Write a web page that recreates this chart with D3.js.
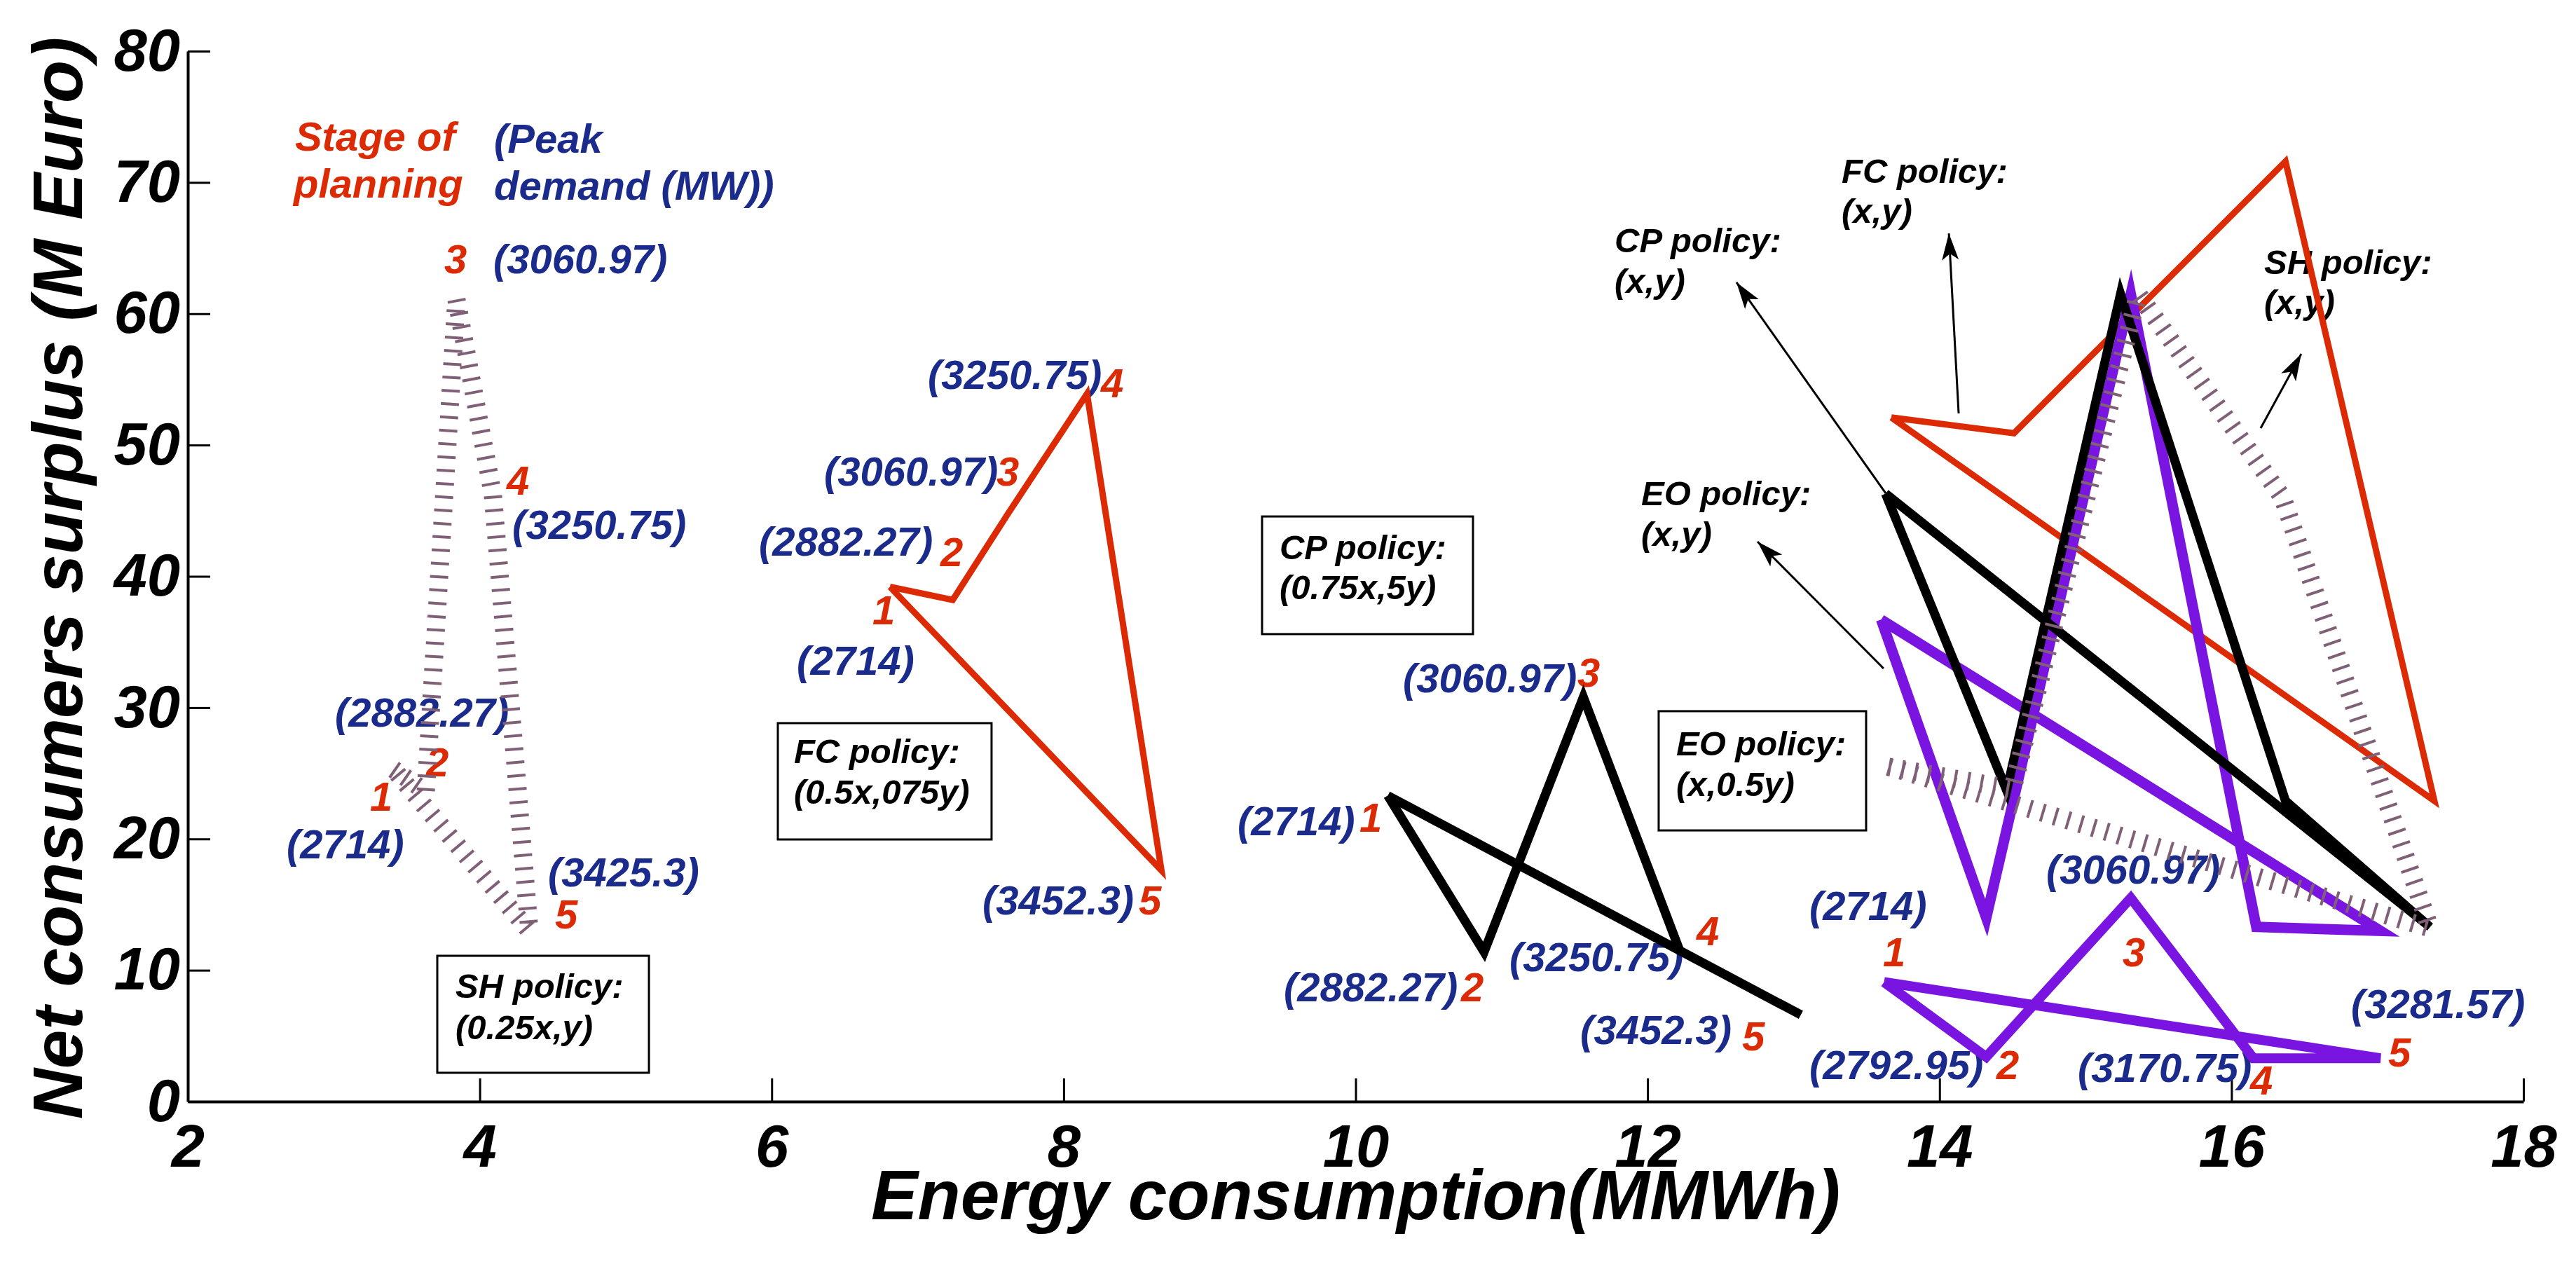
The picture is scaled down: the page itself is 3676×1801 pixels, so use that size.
<!DOCTYPE html>
<html>
<head>
<meta charset="utf-8">
<script src="https://cdnjs.cloudflare.com/ajax/libs/d3/7.8.5/d3.min.js"></script>
<style>
body { margin: 0; background: white; }
</style>
</head>
<body>
<script>
"use strict";

//axis ticks
const x_ticks = [2, 4, 6, 8, 10, 12, 14, 16, 18];
const y_ticks = [0, 10, 20, 30, 40, 50, 60, 70, 80];

//stage of planning, 1..5
const stages = ["1", "2", "3", "4", "5"];

//peak demand (MW) per stage
const peak_sh = ["(2714)", "(2882.27)", "(3060.97)", "(3250.75)", "(3425.3)"];
const peak_fc = ["(2714)", "(2882.27)", "(3060.97)", "(3250.75)", "(3452.3)"];
const peak_cp = ["(2714)", "(2882.27)", "(3060.97)", "(3250.75)", "(3452.3)"];
const peak_eo = ["(2714)", "(2792.95)", "(3060.97)", "(3170.75)", "(3281.57)"];

//policy curves (x,y) : energy (MMWh), surplus (M Euro)
const fc_x = [13.67, 14.51, 15.30, 16.37, 17.39];
const fc_y = [52.1, 50.9, 59.7, 71.6, 22.9];
const cp_x = [13.63, 14.46, 15.24, 16.37, 17.36];
const cp_y = [46.3, 23.7, 61.5, 22.9, 13.3];
const eo_x = [13.60, 14.32, 15.31, 16.17, 17.02];
const eo_y = [36.7, 14.0, 61.5, 13.3, 13.0];
const sh_x = [13.65, 14.50, 15.36, 16.35, 17.36];
const sh_y = [25.5, 23.8, 61.5, 46.0, 13.2];

//scaled policy curves
const fc2_x = [6.81, 7.24, 7.62, 8.16, 8.67];
const fc2_y = [39.2, 38.2, 44.8, 53.9, 17.6];
const cp2_x = [10.22, 10.88, 11.56, 12.22, 13.05];
const cp2_y = [23.3, 11.4, 30.8, 11.5, 6.6];
const eo2_x = [13.62, 14.32, 15.31, 16.15, 17.02];
const eo2_y = [9.1, 3.4, 15.5, 3.3, 3.3];
const sh2_x = [3.41, 3.63, 3.84, 4.09, 4.34];
const sh2_y = [25.3, 23.6, 61.1, 46.2, 13.0];

//label anchors (data units) for stage numbers and peak demands
const sh_num_pos = [[3.248, 22.15], [3.632, 24.76], [3.757, 63.08], [4.184, 46.22], [4.515, 13.18]];
const sh_val_pos = [[2.677, 18.52], [3.008, 28.55], [4.093, 63.08], [4.223, 42.86], [4.467, 16.38]];
const fc_num_pos = [[6.690, 36.34], [7.156, 40.77], [7.540, 46.91], [8.255, 53.64], [8.514, 14.25]];
const fc_val_pos = [[6.172, 32.50], [5.912, 41.57], [6.359, 46.91], [7.069, 54.28], [7.444, 14.25]];
const cp_num_pos = [[10.026, 20.55], [10.722, 7.63], [11.519, 31.59], [12.335, 11.90], [12.648, 3.90]];
const cp_val_pos = [[9.191, 20.28], [9.508, 7.63], [10.324, 31.17], [11.054, 9.93], [11.539, 4.38]];
const eo_num_pos = [[13.612, 10.30], [14.390, 1.71], [15.254, 10.30], [16.128, 0.53], [17.074, 2.67]];
const eo_val_pos = [[13.108, 13.82], [13.108, 1.71], [14.731, 16.60], [14.947, 1.49], [16.819, 6.35]];

//boxed notes: lines, text anchor, box corners
const boxes = [
	{lines: ["SH policy:", "(0.25x,y)"], at: [3.834, 7.90, 4.75], box: [3.709, 11.10, 5.159, 2.19]},
	{lines: ["FC policy:", "(0.5x,075y)"], at: [6.152, 25.78, 22.68], box: [6.042, 28.82, 7.506, 19.96]},
	{lines: ["CP policy:", "(0.75x,5y)"], at: [9.479, 41.31, 38.27], box: [9.359, 44.56, 10.804, 35.60]},
	{lines: ["EO policy:", "(x,0.5y)"], at: [12.196, 26.36, 23.27], box: [12.076, 29.73, 13.497, 20.65]}
];

//arrow notes: lines, text anchor, arrow from -> to
const arrows = [
	{lines: ["FC policy:", "(x,y)"], at: [13.329, 69.97, 66.92], from: [14.131, 52.41], to: [14.064, 66.12]},
	{lines: ["SH policy:", "(x,y)"], at: [16.224, 63.03, 59.99], from: [16.200, 51.29], to: [16.478, 56.94]},
	{lines: ["CP policy:", "(x,y)"], at: [11.774, 64.68, 61.59], from: [13.632, 46.32], to: [12.609, 62.39]},
	{lines: ["EO policy:", "(x,y)"], at: [11.956, 45.42, 42.32], from: [13.617, 32.98], to: [12.753, 42.64]}
];

const red = "#dc2a04";
const blue = "#1b2b8c";
const purple = "#7a14e0";
const mauve = "#806077";
const font = "'Liberation Sans', Arial, sans-serif";

const width = 3676, height = 1801;
const x = d3.scaleLinear().domain([2, 18]).range([268, 3601]);
const y = d3.scaleLinear().domain([0, 80]).range([1572, 73]);

let svg = d3.select("body").append("svg")
	.attr("width", width)
	.attr("height", height)
	.attr("font-family", font)
	.attr("font-weight", "bold")
	.attr("font-style", "italic");
svg.append("rect")
	.attr("width", width)
	.attr("height", height)
	.attr("fill", "white");

svg.append("defs").append("marker")
	.attr("id", "head")
	.attr("markerUnits", "userSpaceOnUse")
	.attr("viewBox", "-40 -14 42 28")
	.attr("markerWidth", 42)
	.attr("markerHeight", 28)
	.attr("refX", 0)
	.attr("refY", 0)
	.attr("orient", "auto")
	.append("path")
	.attr("d", "M0,0 L-38,-12 L-29,0 L-38,12 Z")
	.attr("fill", "black");

//axes, ticks point inward
let gx = svg.append("g")
	.attr("transform", "translate(0," + y(0) + ")")
	.call(d3.axisBottom(x).tickValues(x_ticks).tickSizeInner(-33).tickSizeOuter(0).tickPadding(33));
let gy = svg.append("g")
	.attr("transform", "translate(" + x(2) + ",0)")
	.call(d3.axisLeft(y).tickValues(y_ticks).tickSizeInner(-32).tickSizeOuter(0).tickPadding(11));
for (let g of [gx, gy])
{
	g.attr("font-family", font).attr("font-size", 85);
	g.select(".domain").attr("stroke-width", 4);
	g.selectAll(".tick line").attr("stroke-width", 3);
	g.selectAll(".tick text").attr("fill", "black");
}

svg.append("text")
	.attr("x", (x(2) + x(18)) / 2)
	.attr("y", 1740)
	.attr("text-anchor", "middle")
	.attr("font-size", 100)
	.text("Energy consumption(MMWh)");
svg.append("text")
	.attr("transform", "translate(117," + 825 + ") rotate(-90)")
	.attr("text-anchor", "middle")
	.attr("font-size", 100)
	.text("Net consumers surplus (M Euro)");

//legend heading
let head = svg.append("g").attr("font-size", 58);
head.append("text").attr("x", x(2.734)).attr("y", y(72.42)).attr("fill", red).text("Stage of");
head.append("text").attr("x", x(2.725)).attr("y", y(68.85)).attr("fill", red).text("planning");
head.append("text").attr("x", x(4.098)).attr("y", y(72.26)).attr("fill", blue).text("(Peak");
head.append("text").attr("x", x(4.098)).attr("y", y(68.69)).attr("fill", blue).text("demand (MW))");

//notes
let notes = svg.append("g").attr("font-size", 49).attr("fill", "black");
for (let b of boxes)
{
	notes.append("rect")
		.attr("x", x(b.box[0]))
		.attr("y", y(b.box[1]))
		.attr("width", x(b.box[2]) - x(b.box[0]))
		.attr("height", y(b.box[3]) - y(b.box[1]))
		.attr("fill", "none")
		.attr("stroke", "black")
		.attr("stroke-width", 3);
	b.lines.forEach(function(t, i)
	{
		notes.append("text").attr("x", x(b.at[0])).attr("y", y(b.at[i + 1])).text(t);
	});
}
for (let a of arrows)
{
	a.lines.forEach(function(t, i)
	{
		notes.append("text").attr("x", x(a.at[0])).attr("y", y(a.at[i + 1])).text(t);
	});
	notes.append("line")
		.attr("x1", x(a.from[0])).attr("y1", y(a.from[1]))
		.attr("x2", x(a.to[0])).attr("y2", y(a.to[1]))
		.attr("stroke", "black")
		.attr("stroke-width", 3)
		.attr("marker-end", "url(#head)");
}

//stage numbers and peak demand labels
let labels = svg.append("g").attr("font-size", 58);
function add_labels(nums, vals, num_pos, val_pos)
{
	nums.forEach(function(t, i)
	{
		labels.append("text").attr("x", x(num_pos[i][0])).attr("y", y(num_pos[i][1])).attr("fill", red).text(t);
	});
	vals.forEach(function(t, i)
	{
		labels.append("text").attr("x", x(val_pos[i][0])).attr("y", y(val_pos[i][1])).attr("fill", blue).text(t);
	});
}
add_labels(stages, peak_sh, sh_num_pos, sh_val_pos);
add_labels(stages, peak_fc, fc_num_pos, fc_val_pos);
add_labels(stages, peak_cp, cp_num_pos, cp_val_pos);
add_labels(stages, peak_eo, eo_num_pos, eo_val_pos);

//closed polylines 1-2-3-4-5-1
let path_func = d3.line()
	.x(function(d) { return x(d[0]); })
	.y(function(d) { return y(d[1]); });
function add_curve(xs, ys, color, w, dash)
{
	let pts = xs.map(function(v, i) { return [v, ys[i]]; });
	pts.push(pts[0]);
	let p = svg.append("path")
		.attr("d", path_func(pts))
		.attr("fill", "none")
		.attr("stroke", color)
		.attr("stroke-width", w)
		.attr("stroke-linejoin", "miter")
		.attr("stroke-miterlimit", 10);
	if (dash) p.attr("stroke-dasharray", dash);
}
add_curve(fc_x, fc_y, red, 9);
add_curve(fc2_x, fc2_y, red, 9);
add_curve(eo_x, eo_y, purple, 15);
add_curve(eo2_x, eo2_y, purple, 14);
add_curve(cp_x, cp_y, "black", 13);
add_curve(cp2_x, cp2_y, "black", 13);
add_curve(sh_x, sh_y, mauve, 26, "4 15");
add_curve(sh2_x, sh2_y, mauve, 26, "4 15");
</script>
</body>
</html>
